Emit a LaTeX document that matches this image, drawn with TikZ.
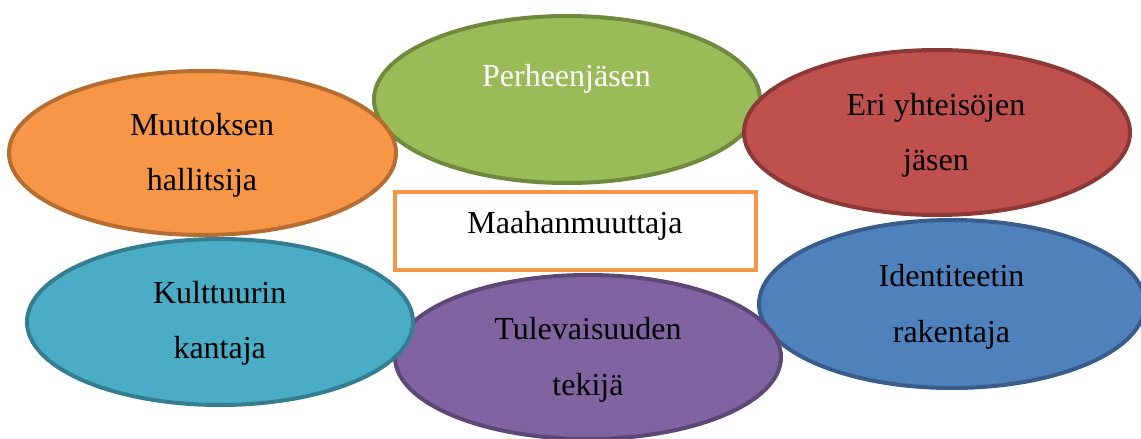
\documentclass[tikz,border=0pt]{standalone}
\usepackage{fontspec}
\setmainfont{Liberation Serif}
\usetikzlibrary{shapes.geometric}
\definecolor{gfill}{HTML}{9BBB59}\definecolor{gline}{HTML}{71893F}
\definecolor{rfill}{HTML}{C0504D}\definecolor{rline}{HTML}{8C3836}
\definecolor{bfill}{HTML}{4F81BD}\definecolor{bline}{HTML}{385D8A}
\definecolor{pfill}{HTML}{8064A2}\definecolor{pline}{HTML}{5C4776}
\definecolor{tfill}{HTML}{4BACC6}\definecolor{tline}{HTML}{357D91}
\definecolor{ofill}{HTML}{F79646}\definecolor{oline}{HTML}{B66D31}
\tikzset{
  oval/.style={ellipse, line width=4pt, inner sep=0pt, outer sep=0pt},
  lbl/.style={anchor=base, inner sep=0pt, font=\fontsize{32}{38}\selectfont},
  centerbox/.style={draw=ofill, fill=white, line width=4pt}
}
\begin{document}
\begin{tikzpicture}[x=1pt,y=-1pt]
\useasboundingbox (0,0) rectangle (1141,439);
% ellipses
\node[oval, draw=gline, fill=gfill, minimum width=386pt, minimum height=167pt] (green) at (567,99.5) {};
\node[oval, draw=rline, fill=rfill, minimum width=386pt, minimum height=165pt] (red) at (937,132.5) {};
\node[oval, draw=bline, fill=bfill, minimum width=386pt, minimum height=168pt] (blue) at (952,304) {};
\node[oval, draw=pline, fill=pfill, minimum width=386pt, minimum height=164pt] (purple) at (588,357) {};
\node[oval, draw=tline, fill=tfill, minimum width=386pt, minimum height=166pt] (teal) at (220,322) {};
\node[oval, draw=oline, fill=ofill, minimum width=387pt, minimum height=164pt] (orange) at (202.5,153) {};
% centre box
\draw[centerbox] (395,192) rectangle (756,270);
\node[lbl] (center) at (575,233) {Maahanmuuttaja};
% labels
\node[lbl, text=white] (g1) at (566.5,86) {Perheenjäsen};
\node[lbl] (r1) at (936,115) {Eri yhteisöjen};
\node[lbl] (r2) at (936,170) {jäsen};
\node[lbl] (b1) at (951.5,286) {Identiteetin};
\node[lbl] (b2) at (951.5,342) {rakentaja};
\node[lbl] (p1) at (588,339) {Tulevaisuuden};
\node[lbl] (p2) at (588,395) {tekijä};
\node[lbl] (t1) at (219.7,303) {Kulttuurin};
\node[lbl] (t2) at (219.7,358) {kantaja};
\node[lbl] (o1) at (202,135) {Muutoksen};
\node[lbl] (o2) at (202,190) {hallitsija};
\end{tikzpicture}
\end{document}
